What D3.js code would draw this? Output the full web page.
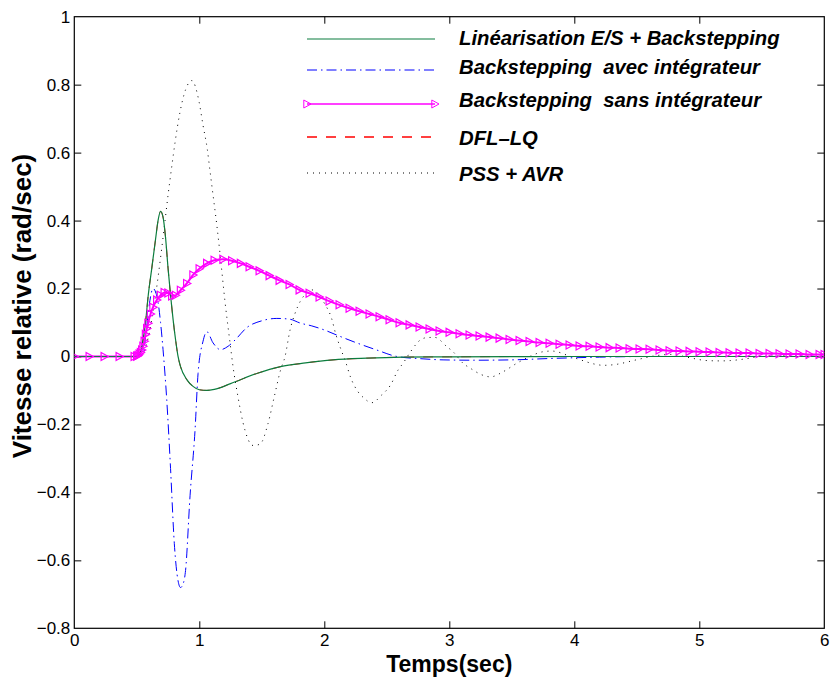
<!DOCTYPE html>
<html><head><meta charset="utf-8">
<script src="https://cdn.jsdelivr.net/npm/d3@7"></script>
<style>
body{margin:0;background:#fff}
svg text{font-family:"Liberation Sans",Arial,Helvetica,sans-serif}
</style></head>
<body><svg id="c" width="831" height="684"></svg>
<script>
// ---------- data ----------
const xTicks = [0, 1, 2, 3, 4, 5, 6];
const yTicks = [-0.8, -0.6, -0.4, -0.2, 0, 0.2, 0.4, 0.6, 0.8, 1];
const seriesNames = ["Linéarisation E/S + Backstepping", "Backstepping  avec intégrateur",
  "Backstepping  sans intégrateur", "DFL\u2013LQ", "PSS + AVR"];

// Linéarisation E/S + Backstepping (green)
const linT = [0,0.5,0.525,0.55,0.57,0.59,0.62,0.65,0.67,0.69,0.71,0.73,0.75,0.77,0.79,0.81,0.83,0.85,0.9,0.95,1.0,1.06,1.12,1.25,1.46,1.65,1.85,2.07,2.34,2.63,3.0,4.0,6.0];
const linV = [0,0,0.01,0.05,0.1,0.175,0.26,0.345,0.4,0.427,0.41,0.35,0.26,0.18,0.11,0.05,0.0,-0.03,-0.068,-0.088,-0.098,-0.1,-0.097,-0.08,-0.05,-0.03,-0.019,-0.01,-0.005,-0.002,-0.001,0,0];

// Backstepping avec intégrateur (blue dash-dot)
const bwT = [0,0.5,0.55,0.58,0.605,0.63,0.65,0.67,0.69,0.71,0.74,0.77,0.8,0.83,0.85,0.87,0.89,0.926,0.966,0.99,1.03,1.06,1.11,1.17,1.23,1.29,1.38,1.5,1.62,1.72,1.81,1.9,2.0,2.1,2.23,2.42,2.58,2.79,2.95,3.2,3.5,3.8,4.2,4.6,6];
const bwV = [0,0,0.01,0.09,0.165,0.2,0.19,0.16,0.1,0.02,-0.13,-0.33,-0.55,-0.66,-0.68,-0.67,-0.63,-0.41,-0.216,-0.05,0.045,0.073,0.04,0.02,0.03,0.05,0.085,0.105,0.112,0.11,0.098,0.09,0.078,0.063,0.044,0.019,0,-0.007,-0.01,-0.011,-0.01,-0.006,-0.002,0,0];

// Backstepping sans intégrateur (magenta, triangle markers)
const bsT = [0,0.12,0.24,0.36,0.48,0.5,0.51,0.52,0.53,0.54,0.55,0.56,0.57,0.58,0.59,0.61,0.63,0.66,0.69,0.72,0.75,0.78,0.81,0.85,0.9,0.95,1.0,1.06,1.12,1.19,1.26,1.33,1.4,1.48,1.56,1.64,
  1.72,1.80,1.88,1.96,2.04,2.12,2.20,2.28,2.36,2.44,2.52,2.60,2.68,2.76,2.84,2.92,3.00,3.08,3.16,3.24,3.32,3.40,3.48,3.56,3.64,3.72,3.80,3.88,3.96,
  4.04,4.12,4.20,4.28,4.36,4.44,4.52,4.60,4.68,4.76,4.84,4.92,5.00,5.08,5.16,5.24,5.32,5.40,5.48,5.56,5.64,5.72,5.80,5.88,5.96,6.00];
const bsV = [0,0,0,0,0,0.001,0.003,0.007,0.012,0.019,0.03,0.045,0.065,0.082,0.098,0.125,0.145,0.166,0.18,0.188,0.187,0.178,0.18,0.195,0.215,0.24,0.258,0.274,0.283,0.286,0.282,0.274,0.264,0.252,0.238,0.224,
  0.212,0.196,0.186,0.175,0.163,0.152,0.142,0.133,0.125,0.117,0.108,0.099,0.093,0.087,0.081,0.075,0.071,0.067,0.063,0.060,0.057,0.054,0.050,0.047,0.044,0.041,0.039,0.036,0.034,
  0.031,0.030,0.028,0.026,0.025,0.023,0.022,0.021,0.019,0.017,0.016,0.015,0.014,0.013,0.012,0.011,0.010,0.010,0.009,0.009,0.008,0.007,0.007,0.006,0.006,0.006];

// DFL–LQ (red dashed) – coincides with the green curve, hidden beneath it
const dflT = [0,0.5,0.525,0.55,0.57,0.59,0.62,0.65,0.67,0.69,0.71,0.73,0.75,0.77,0.79,0.81,0.83,0.85,0.9,0.95,1.0,1.06,1.12,1.25,1.46,1.65,1.85,2.07,2.34,2.63,3.0,4.0,6.0];
const dflV = [0,0,0.01,0.05,0.1,0.175,0.26,0.345,0.4,0.427,0.41,0.35,0.26,0.18,0.11,0.05,0.0,-0.03,-0.068,-0.088,-0.098,-0.1,-0.097,-0.08,-0.05,-0.03,-0.019,-0.01,-0.005,-0.002,-0.001,0,0];

// PSS + AVR (black dotted)
const pssT = [0,0.5,0.55,0.6,0.65,0.7,0.726,0.75,0.78,0.806,0.846,0.89,0.94,0.998,1.03,1.064,1.086,1.11,1.14,1.165,1.206,1.246,1.27,1.31,1.35,1.43,1.486,1.55,1.6,1.65,1.686,1.726,1.766,1.806,1.87,1.9,1.95,2.0,2.06,2.09,2.13,2.17,2.21,2.27,2.31,2.38,2.46,2.53,2.59,2.63,2.69,2.77,2.83,2.885,2.98,3.03,3.11,3.17,3.26,3.33,3.43,3.54,3.65,3.75,3.82,3.89,3.94,4.05,4.17,4.23,4.34,4.46,4.53,4.63,4.77,4.85,4.94,5.06,5.17,5.25,5.37,5.49,5.7,6];
const pssV = [0,0,0.01,0.07,0.18,0.32,0.40,0.475,0.56,0.63,0.72,0.785,0.812,0.75,0.68,0.61,0.545,0.475,0.387,0.305,0.16,0.04,-0.03,-0.12,-0.195,-0.262,-0.258,-0.197,-0.118,-0.04,0,0.078,0.127,0.161,0.19,0.196,0.185,0.157,0.11,0.068,0.024,-0.015,-0.061,-0.104,-0.12,-0.136,-0.113,-0.084,-0.04,-0.02,0.014,0.049,0.056,0.056,0.029,0.014,-0.02,-0.035,-0.054,-0.06,-0.045,-0.02,0.001,0.014,0.016,0.011,0.004,-0.01,-0.023,-0.026,-0.023,-0.013,-0.007,0.001,0.006,0.002,-0.005,-0.012,-0.013,-0.012,-0.007,0,0.002,0];

// ---------- chart ----------
const svg = d3.select("#c");
const L = 74.3, R = 824.3, T = 16.7, B = 628.3;
const x = d3.scaleLinear().domain([0, 6]).range([L, R]);
const y = d3.scaleLinear().domain([-0.8, 1]).range([B, T]);
const zip = (ts, vs) => ts.map((t, i) => [t, vs[i]]);
const line = d3.line().x(d => x(d[0])).y(d => y(d[1])).curve(d3.curveMonotoneX);

const fmt = d => d3.format("")(d).replace("-", "\u2212");
const tickFont = 17;

// axes (ticks inward, mirrored on all four sides)
const gB = svg.append("g").attr("transform", `translate(0,${B})`)
  .call(d3.axisBottom(x).tickValues(xTicks).tickFormat(d3.format("d")).tickSizeInner(-7).tickSizeOuter(0).tickPadding(6));
const gT = svg.append("g").attr("transform", `translate(0,${T})`)
  .call(d3.axisTop(x).tickValues(xTicks).tickFormat("").tickSizeInner(-7).tickSizeOuter(0));
const gL = svg.append("g").attr("transform", `translate(${L},0)`)
  .call(d3.axisLeft(y).tickValues(yTicks).tickFormat(fmt).tickSizeInner(-7).tickSizeOuter(0).tickPadding(4));
const gR = svg.append("g").attr("transform", `translate(${R},0)`)
  .call(d3.axisRight(y).tickValues(yTicks).tickFormat("").tickSizeInner(-7).tickSizeOuter(0));
[gB, gT, gL, gR].forEach(g => {
  g.select(".domain").remove();
  g.selectAll("line").attr("stroke", "#000").attr("stroke-width", 1);
  g.selectAll("text").attr("fill", "#000").style("font-size", tickFont + "px")
    .style("font-family", '"Liberation Sans", Arial, sans-serif');
});
[gB, gT].forEach(g => g.selectAll(".tick").filter(d => d === 0 || d === 6).select("line").remove());
[gL, gR].forEach(g => g.selectAll(".tick").filter(d => d === -0.8 || d === 1).select("line").remove());

// box
svg.append("rect").attr("x", L).attr("y", T).attr("width", R - L).attr("height", B - T)
  .attr("fill", "none").attr("stroke", "#000").attr("stroke-width", 1.2);

// clip
svg.append("clipPath").attr("id", "clip").append("rect")
  .attr("x", L).attr("y", T).attr("width", R - L).attr("height", B - T);
const plot = svg.append("g").attr("clip-path", "url(#clip)");

const styles = {
  dfl: {stroke: "#ff0000", width: 1.5, dash: "10,9"},
  lin: {stroke: "#0b7d3e", width: 1.2, dash: null},
  bw:  {stroke: "#0000ff", width: 1, dash: "10,4,1.5,4"},
  bs:  {stroke: "#ff00ff", width: 2, dash: null},
  pss: {stroke: "#000000", width: 1, dash: "1,5"}
};
function drawLine(data, s, w) {
  plot.append("path").datum(data).attr("d", line)
    .attr("fill", "none").attr("stroke", s.stroke).attr("stroke-width", w || s.width)
    .attr("stroke-dasharray", s.dash);
}
drawLine(zip(dflT, dflV), styles.dfl, 1);
drawLine(zip(pssT, pssV), styles.pss);
drawLine(zip(bwT, bwV), styles.bw);
drawLine(zip(bsT, bsV), styles.bs);
drawLine(zip(linT, linV), styles.lin);

const tri = "M-3.2,-4L4,0L-3.2,4Z";
plot.append("g").selectAll("path").data(zip(bsT, bsV)).join("path")
  .attr("d", tri).attr("transform", d => `translate(${x(d[0])},${y(d[1])})`)
  .attr("fill", "none").attr("stroke", "#ff00ff").attr("stroke-width", 1.2);

// axis titles
svg.append("text").attr("x", (L + R) / 2).attr("y", 672).attr("text-anchor", "middle")
  .style("font-size", "23px").style("font-weight", "bold").text("Temps(sec)");
svg.append("text").attr("transform", `translate(31,306) rotate(-90)`).attr("text-anchor", "middle")
  .style("font-size", "26px").style("font-weight", "bold").text("Vitesse relative (rad/sec)");

// legend
const legLineY = [39, 70, 104, 137, 173];
const legTextY = [37.5, 66.5, 100, 137.5, 174];
const legKeys = ["lin", "bw", "bs", "dfl", "pss"];
const lg = svg.append("g");
legKeys.forEach((k, i) => {
  const s = styles[k];
  lg.append("line").attr("x1", 307).attr("x2", 435).attr("y1", legLineY[i]).attr("y2", legLineY[i])
    .attr("stroke", s.stroke).attr("stroke-width", k === "bs" ? 1.5 : s.width).attr("stroke-dasharray", s.dash);
  if (k === "bs") {
    [307, 435].forEach(px => lg.append("path").attr("d", tri)
      .attr("transform", `translate(${px},${legLineY[i]})`)
      .attr("fill", "none").attr("stroke", "#ff00ff").attr("stroke-width", 1));
  }
  lg.append("text").attr("x", 459).attr("y", legTextY[i]).attr("dy", "0.36em")
    .style("font-size", "20.3px").style("font-weight", "bold").style("font-style", "italic")
    .style("white-space", "pre").text(seriesNames[i]);
});
</script></body></html>
